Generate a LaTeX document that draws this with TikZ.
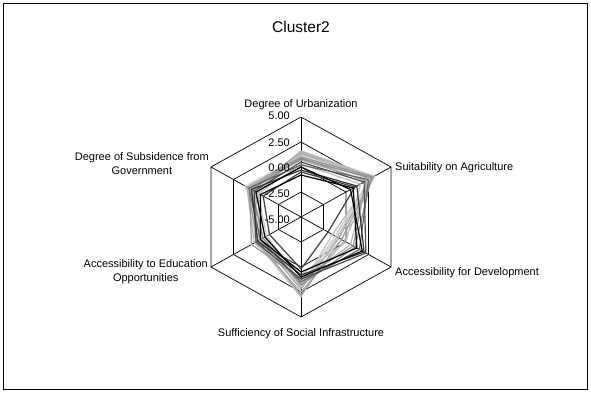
\documentclass[tikz,border=0pt]{standalone}
\usepackage{fontspec}
\setmainfont{Liberation Sans}
\tikzset{
  frame/.style={draw=black,line width=0.8pt},
  grid/.style={draw=black,line width=0.7pt},
  series/.style={line width=1.2pt,line join=round},
  axislabel/.style={inner sep=0pt,font=\fontsize{11}{14}\selectfont},
  ticklabel/.style={inner sep=0pt,anchor=base east,font=\fontsize{11}{13}\selectfont},
  charttitle/.style={inner sep=0pt,anchor=base,font=\fontsize{15.5}{18}\selectfont}
}
\begin{document}
\begin{tikzpicture}[x=1pt,y=-1pt]
  \useasboundingbox (0,0) rectangle (591,392);
  \draw[frame] (3,3) rectangle (587,389);
  \node[charttitle] (title) at (301,32) {Cluster2};
  \begin{scope}[shift={(301,217)},x=1.04pt,y=1pt]
    \foreach \r in {25,50,75,100}
      \draw[grid] (90:\r) -- (30:\r) -- (-30:\r) -- (-90:\r) -- (-150:\r) -- (150:\r) -- cycle;
    \foreach \a in {90,30,-30,-90,-150,150}
      \draw[grid] (0,0) -- (\a:100);
    \foreach \c/\u/\ag/\d/\s/\e/\g in {
        black!15/61/77/40/68/42/62,
        black!20/65/78/45/66/38/48,
        black!25/63/79/35/70/40/50,
        black!30/66/81/48/75/50/54,
        black!20/60/76/38/70/44/52,
        black!35/64/80/42/72/46/56,
        black!25/62/82/40/80/50/58,
        gray!80/60/80/45/78/48/60,
        black!30/57/73/55/64/52/60,
        black!40/59/72/58/62/55/57,
        black!25/53/66/50/58/46/47,
        gray!90/58/78/60/68/42/55,
        black!60/52/75/65/65/45/58,
        black!70/55/70/72/62/50/52,
        black!75/45/60/30/52/35/42,
        black!80/47/62/70/58/48/55,
        black/50/55/68/60/40/50,
        black/42/58/62/55/45/45}
      \draw[series,draw=\c] (90:\u) -- (30:\ag) -- (-30:\d) -- (-90:\s) -- (-150:\e) -- (150:\g) -- cycle;
  \end{scope}
  \node[ticklabel] (t5) at (290,119) {5.00};
  \node[ticklabel] (t25) at (290,146) {2.50};
  \node[ticklabel] (t0) at (290,171) {0.00};
  \node[ticklabel] (tm25) at (290,197) {-2.50};
  \node[ticklabel] (tm5) at (290,223) {-5.00};
  \node[axislabel,anchor=base] (urban) at (301,107) {Degree of Urbanization};
  \node[axislabel,anchor=base west] (agri) at (395,170) {Suitability on Agriculture};
  \node[axislabel,anchor=base west] (devel) at (395,275) {Accessibility for Development};
  \node[axislabel,anchor=base] (infra) at (301,336) {Sufficiency of Social Infrastructure};
  \node[axislabel,anchor=east,align=center] (educ) at (208,272) {Accessibility to Education\\Opportunities};
  \node[axislabel,anchor=east,align=center] (subs) at (209,164) {Degree of Subsidence from\\Government};
\end{tikzpicture}
\end{document}
